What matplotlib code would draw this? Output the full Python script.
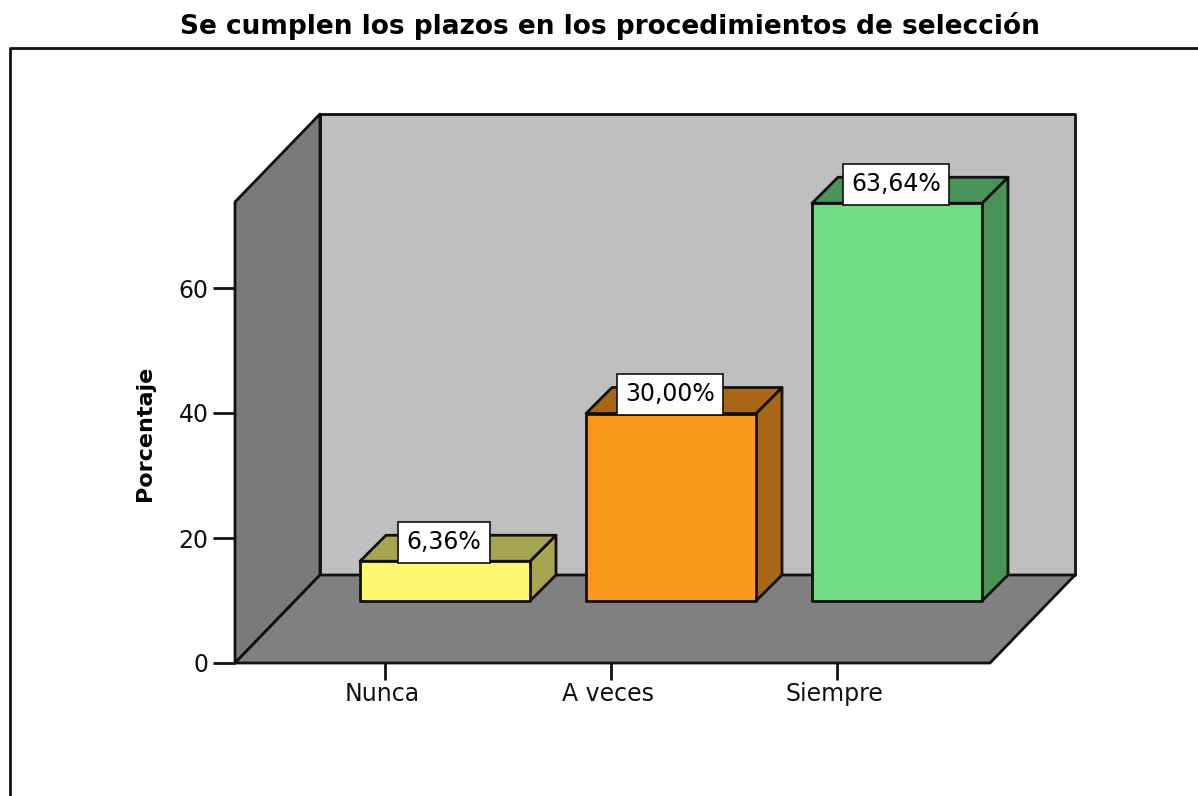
import matplotlib
matplotlib.use("Agg")
import matplotlib.pyplot as plt
from matplotlib.lines import Line2D
from matplotlib.patches import Polygon
from matplotlib.transforms import ScaledTranslation

title = "Se cumplen los plazos en los procedimientos de selección"
categories = ["Nunca", "A veces", "Siempre"]
heights = [6.36, 30.0, 63.64]
labels = ["6,36%", "30,00%", "63,64%"]
y_ticks = [0, 20, 40, 60]
y_label = "Porcentaje"

W, H = 1198, 796
colors = ["#FCF870", "#FA991E", "#70DC84"]
tops = ["#A8A550", "#A96615", "#4A9358"]
sides = ["#A8A550", "#A96615", "#4A9358"]

plt.rcParams["font.family"] = ["DejaVu Sans"]
fig = plt.figure(figsize=(W / 100, H / 100), dpi=100, facecolor="white")

L, R, T, B = 235, 990, 202, 663
ax = fig.add_axes([L / W, 1 - B / H, (R - L) / W, (B - T) / H])
ax.set_xlim((L - 385) / 226, (R - 385) / 226)
ax.set_ylim(0, (B - T) / 6.25)
ax.patch.set_visible(False)
for s in ("top", "right", "bottom", "left"):
    ax.spines[s].set_visible(False)

ux = (R - L) / (ax.get_xlim()[1] - ax.get_xlim()[0])
uy = (B - T) / ax.get_ylim()[1]
x0, x1 = ax.get_xlim()
y1 = ax.get_ylim()[1]
wall_dx, wall_dy = 85 / ux, 88 / uy
ec = "#111111"


def poly(pts, fc, z):
    ax.add_patch(Polygon(pts, closed=True, facecolor=fc, edgecolor=ec, linewidth=2,
                         clip_on=False, zorder=z, joinstyle="round"))


# Walls and floor
poly([(x0 + wall_dx, wall_dy), (x1 + wall_dx, wall_dy),
      (x1 + wall_dx, y1 + wall_dy), (x0 + wall_dx, y1 + wall_dy)], "#BFBFBF", 1)
poly([(x0, 0), (x0 + wall_dx, wall_dy), (x0 + wall_dx, y1 + wall_dy), (x0, y1)], "#7A7A7A", 2)
poly([(x0, 0), (x1, 0), (x1 + wall_dx, wall_dy), (x0 + wall_dx, wall_dy)], "#808080", 2)

# Bars
base = 62 / uy
half = 85 / ux
shift = 60 / ux
dx, dy = 26 / ux, 26 / uy
for i, (h, lab) in enumerate(zip(heights, labels)):
    a, b = i + shift - half, i + shift + half
    t = base + h
    poly([(b, base), (b + dx, base + dy), (b + dx, t + dy), (b, t)], sides[i], 3)
    poly([(a, t), (b, t), (b + dx, t + dy), (a + dx, t + dy)], tops[i], 3)
    poly([(a, base), (b, base), (b, t), (a, t)], colors[i], 4)
    ax.text(i + shift - 1 / ux, t + 19 / uy, lab, ha="center", va="center", fontsize=17,
            color="black", zorder=6,
            bbox=dict(boxstyle="square,pad=0.36", facecolor="white", edgecolor=ec, linewidth=1.2))

ax.set_xticks(range(len(categories)), categories)
ax.set_yticks(y_ticks)
ax.tick_params(axis="x", length=12.5, width=2, color=ec, labelsize=17, pad=1, labelcolor="#111111")
ax.tick_params(axis="y", length=16, width=2, color=ec, labelsize=17, pad=3, labelcolor="#111111")
offset = ScaledTranslation(-3 / 100, 0, fig.dpi_scale_trans)
for lab in ax.get_xticklabels():
    lab.set_transform(lab.get_transform() + offset)
ax.set_ylabel(y_label, fontsize=16, fontweight="bold")
ax.yaxis.set_label_coords((155 - L) / (R - L), (B - 433) / (B - T))

fig.add_artist(Line2D([10 / W, 10 / W, 1], [0, 1 - 48 / H, 1 - 48 / H], color=ec, linewidth=2,
                      transform=fig.transFigure))
fig.text(610 / W, 1 - 26 / H, title, ha="center", va="center", fontsize=19,
         fontweight="bold", color="black")

fig.savefig("out.png", dpi=100)
